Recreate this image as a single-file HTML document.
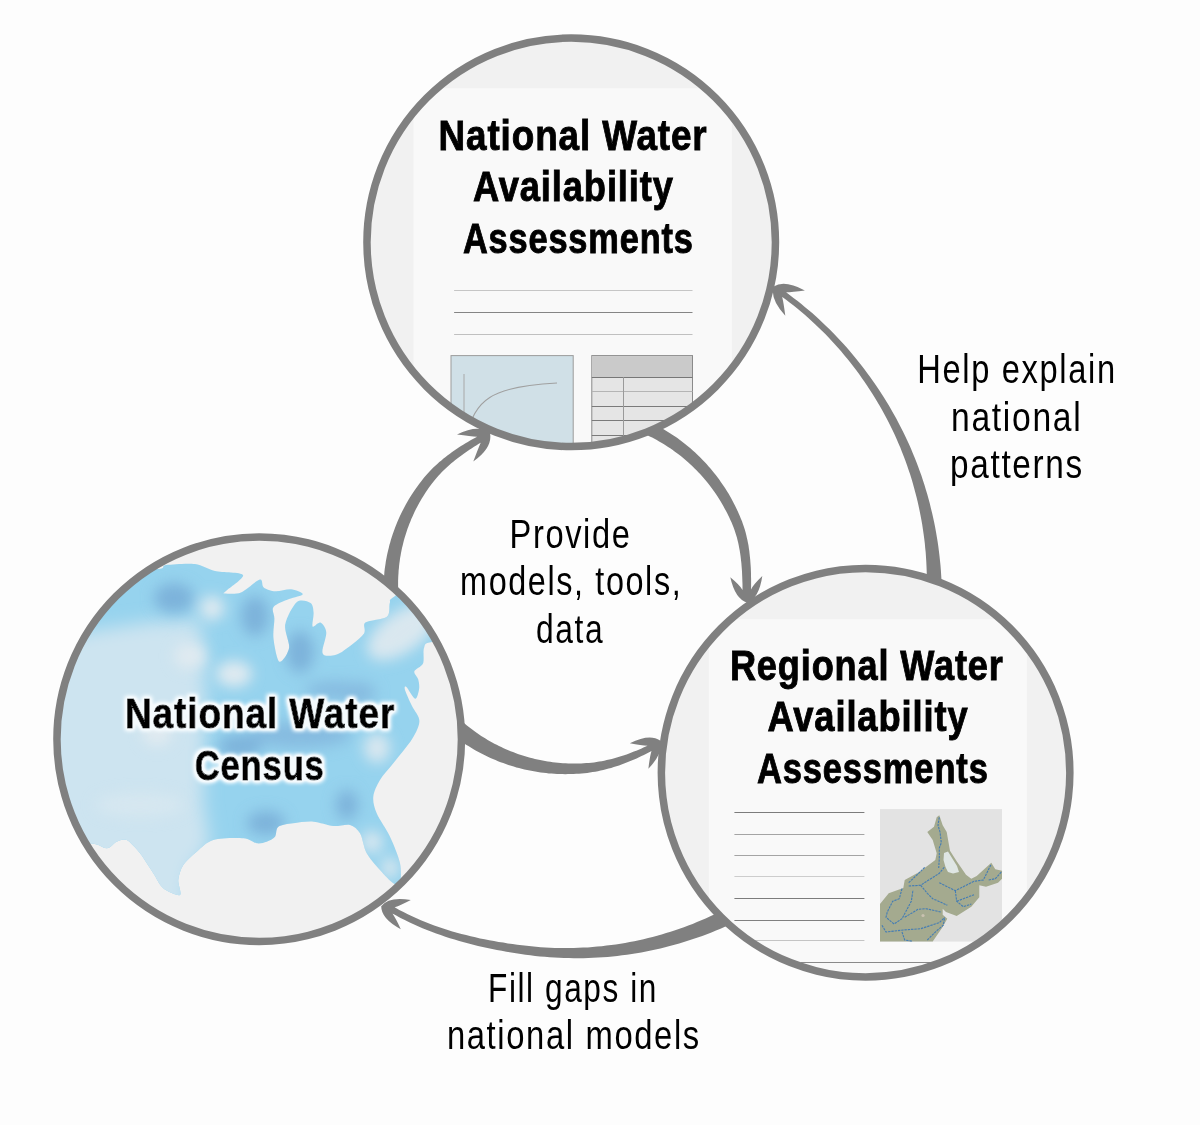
<!DOCTYPE html>
<html><head><meta charset="utf-8"><style>
html,body{margin:0;padding:0;background:#fdfdfd;width:1200px;height:1125px;overflow:hidden;}
svg{display:block;}
text{font-family:"Liberation Sans",sans-serif;}
</style></head><body>
<svg width="1200" height="1125" viewBox="0 0 1200 1125">
<defs>
<clipPath id="cT"><circle cx="571.2" cy="242.3" r="204.25"/></clipPath>
<clipPath id="cL"><circle cx="259.2" cy="739.2" r="202.25"/></clipPath>
<clipPath id="cR"><circle cx="865.6" cy="772.7" r="204.25"/></clipPath>
<filter id="glow" x="-10%" y="-30%" width="120%" height="160%"><feMorphology in="SourceAlpha" operator="dilate" radius="2.2" result="d"/><feGaussianBlur in="d" stdDeviation="2.3" result="b"/><feComponentTransfer in="b" result="b2"><feFuncA type="linear" slope="1.7"/></feComponentTransfer><feFlood flood-color="#f4fafd"/><feComposite in2="b2" operator="in" result="g"/><feMerge><feMergeNode in="g"/><feMergeNode in="SourceGraphic"/></feMerge></filter>
<filter id="blur8" x="-50%" y="-50%" width="200%" height="200%"><feGaussianBlur stdDeviation="9"/></filter><filter id="blur6" x="-50%" y="-50%" width="200%" height="200%"><feGaussianBlur stdDeviation="7"/></filter>
</defs>
<path d="M401.3 616.0 L400.8 613.5 L400.4 611.0 L400.0 608.5 L399.6 606.0 L399.3 603.5 L399.0 601.0 L398.8 598.5 L398.6 596.0 L398.4 593.5 L398.3 591.0 L398.2 588.4 L398.1 585.9 L398.1 583.4 L398.1 580.8 L398.2 578.3 L398.3 575.8 L398.5 573.2 L398.6 570.7 L398.9 568.2 L399.1 565.7 L399.4 563.2 L399.8 560.6 L400.1 558.1 L400.6 555.6 L401.0 553.1 L401.5 550.6 L402.0 548.1 L402.6 545.7 L403.2 543.2 L403.8 540.7 L404.5 538.3 L405.3 535.8 L406.0 533.4 L406.8 531.0 L407.6 528.6 L408.5 526.2 L409.4 523.8 L410.4 521.4 L411.3 519.1 L412.4 516.7 L413.4 514.4 L414.5 512.1 L415.6 509.8 L416.8 507.5 L418.0 505.2 L419.2 503.0 L420.5 500.8 L421.8 498.6 L423.1 496.4 L424.5 494.2 L425.9 492.1 L427.3 489.9 L428.8 487.8 L430.3 485.8 L431.8 483.7 L433.4 481.7 L435.0 479.7 L436.7 477.7 L438.4 475.8 L440.1 473.9 L441.9 472.1 L443.7 470.2 L445.6 468.5 L447.5 466.7 L449.4 465.0 L451.3 463.3 L453.3 461.7 L455.3 460.1 L457.3 458.5 L459.3 456.9 L461.4 455.4 L463.4 453.9 L465.5 452.4 L467.6 451.0 L469.8 449.6 L471.9 448.2 L474.0 446.8 L476.2 445.4 L478.4 444.1 L480.6 442.8 L480.7 442.7 Q478.2 448.3 473.3 461.5 Q492.9 447.6 490.0 433.0 Q478.5 423.6 457.0 434.5 Q470.9 436.3 477.0 436.7 L477.1 436.7 L477.1 436.7 L474.8 438.0 L472.4 439.3 L470.1 440.6 L467.8 441.9 L465.5 443.3 L463.2 444.7 L461.0 446.1 L458.7 447.6 L456.5 449.0 L454.3 450.6 L452.1 452.1 L449.9 453.7 L447.7 455.3 L445.6 456.9 L443.5 458.6 L441.4 460.4 L439.3 462.1 L437.3 463.9 L435.3 465.8 L433.3 467.6 L431.4 469.5 L429.5 471.5 L427.7 473.5 L425.9 475.5 L424.1 477.6 L422.4 479.7 L420.7 481.9 L419.1 484.0 L417.5 486.2 L415.9 488.4 L414.3 490.7 L412.8 492.9 L411.3 495.2 L409.9 497.5 L408.5 499.8 L407.1 502.2 L405.8 504.6 L404.5 507.0 L403.2 509.4 L402.0 511.8 L400.8 514.3 L399.6 516.8 L398.5 519.2 L397.4 521.8 L396.4 524.3 L395.4 526.8 L394.4 529.4 L393.5 532.0 L392.6 534.6 L391.7 537.2 L390.9 539.8 L390.2 542.4 L389.4 545.1 L388.8 547.7 L388.1 550.4 L387.5 553.1 L386.9 555.7 L386.4 558.4 L385.9 561.1 L385.5 563.9 L385.1 566.6 L384.7 569.3 L384.4 572.0 L384.2 574.8 L383.9 577.5 L383.7 580.3 L383.6 583.0 L383.5 585.8 L383.4 588.5 L383.4 591.3 L383.4 594.0 L383.5 596.8 L383.6 599.5 L383.7 602.3 L383.9 605.1 L384.2 607.8 L384.5 610.6 L384.8 613.3 L385.1 616.0 L385.5 618.8 Z" fill="#808080"/>
<path d="M630.5 428.3 L633.0 429.2 L635.4 430.1 L637.9 431.1 L640.3 432.1 L642.7 433.1 L645.1 434.2 L647.5 435.3 L649.8 436.4 L652.2 437.6 L654.5 438.8 L656.8 440.1 L659.1 441.4 L661.4 442.7 L663.6 444.1 L665.9 445.4 L668.1 446.9 L670.2 448.3 L672.4 449.8 L674.6 451.4 L676.7 452.9 L678.8 454.5 L680.8 456.1 L682.9 457.8 L684.9 459.5 L686.9 461.2 L688.9 463.0 L690.8 464.7 L692.7 466.6 L694.6 468.4 L696.5 470.3 L698.3 472.2 L700.1 474.1 L701.9 476.0 L703.6 478.0 L705.3 480.0 L707.0 482.1 L708.6 484.1 L710.3 486.2 L711.8 488.3 L713.4 490.5 L714.9 492.6 L716.4 494.8 L717.9 497.0 L719.3 499.2 L720.7 501.5 L722.0 503.8 L723.3 506.0 L724.6 508.4 L725.9 510.7 L727.1 513.0 L728.3 515.4 L729.4 517.8 L730.5 520.2 L731.6 522.6 L732.6 525.1 L733.6 527.5 L734.5 530.0 L735.3 532.5 L736.1 535.0 L736.9 537.6 L737.5 540.1 L738.2 542.7 L738.7 545.3 L739.2 547.9 L739.7 550.5 L740.1 553.1 L740.5 555.7 L740.8 558.3 L741.1 560.9 L741.4 563.6 L741.6 566.2 L741.8 568.8 L742.0 571.4 L742.1 574.0 L742.2 576.6 L742.3 579.2 L742.4 581.9 L742.5 584.5 L742.5 587.1 L742.5 589.7 L742.5 589.9 Q739.6 585.0 730.3 577.3 Q735.1 599.1 747.3 602.7 Q759.1 598.2 762.3 576.1 Q753.6 584.4 751.0 589.5 L751.0 589.7 L751.0 589.7 L751.1 587.0 L751.1 584.2 L751.1 581.5 L751.1 578.7 L751.0 576.0 L751.0 573.2 L750.9 570.5 L750.8 567.7 L750.6 564.9 L750.4 562.2 L750.2 559.4 L749.9 556.7 L749.6 553.9 L749.3 551.1 L748.9 548.4 L748.5 545.6 L748.0 542.9 L747.4 540.1 L746.8 537.4 L746.2 534.7 L745.5 532.0 L744.7 529.3 L743.8 526.6 L742.9 524.0 L742.0 521.3 L740.9 518.7 L739.8 516.1 L738.7 513.6 L737.6 511.0 L736.4 508.5 L735.2 505.9 L733.9 503.4 L732.6 501.0 L731.3 498.5 L729.9 496.0 L728.5 493.6 L727.0 491.2 L725.5 488.8 L724.0 486.5 L722.4 484.2 L720.8 481.9 L719.2 479.6 L717.5 477.3 L715.8 475.1 L714.1 472.9 L712.3 470.7 L710.5 468.5 L708.6 466.4 L706.8 464.3 L704.9 462.2 L702.9 460.2 L701.0 458.2 L699.0 456.2 L696.9 454.2 L694.9 452.3 L692.8 450.4 L690.7 448.6 L688.5 446.8 L686.3 445.0 L684.1 443.2 L681.9 441.5 L679.6 439.8 L677.4 438.1 L675.1 436.5 L672.7 434.9 L670.4 433.4 L668.0 431.9 L665.6 430.4 L663.2 428.9 L660.7 427.5 L658.2 426.2 L655.7 424.8 L653.2 423.5 L650.7 422.3 L648.1 421.1 L645.6 419.9 L643.0 418.8 L640.4 417.7 L637.8 416.6 L635.1 415.6 Z" fill="#808080"/>
<path d="M446.0 729.7 L448.1 731.5 L450.3 733.2 L452.4 735.0 L454.7 736.7 L456.9 738.3 L459.1 740.0 L461.4 741.6 L463.7 743.1 L466.0 744.7 L468.4 746.1 L470.8 747.6 L473.1 749.0 L475.6 750.4 L478.0 751.8 L480.4 753.1 L482.9 754.3 L485.4 755.6 L487.9 756.8 L490.4 757.9 L492.9 759.0 L495.5 760.1 L498.0 761.2 L500.6 762.2 L503.2 763.1 L505.8 764.1 L508.4 764.9 L511.1 765.8 L513.7 766.6 L516.4 767.4 L519.0 768.1 L521.7 768.8 L524.4 769.4 L527.1 770.0 L529.8 770.6 L532.5 771.1 L535.2 771.6 L537.9 772.0 L540.6 772.4 L543.4 772.8 L546.1 773.1 L548.8 773.4 L551.6 773.6 L554.3 773.8 L557.1 773.9 L559.8 774.1 L562.6 774.1 L565.3 774.2 L568.0 774.1 L570.8 774.1 L573.5 774.0 L576.3 773.8 L579.0 773.7 L581.7 773.5 L584.5 773.2 L587.2 772.9 L589.9 772.5 L592.6 772.1 L595.3 771.7 L598.0 771.2 L600.6 770.6 L603.3 770.0 L606.0 769.3 L608.6 768.6 L611.2 767.9 L613.8 767.1 L616.4 766.3 L619.0 765.4 L621.5 764.5 L624.1 763.6 L626.6 762.6 L629.1 761.6 L631.6 760.6 L634.1 759.5 L636.6 758.4 L639.0 757.3 L641.5 756.1 L643.9 754.9 L646.3 753.7 L648.7 752.5 L651.1 751.2 L651.5 750.9 Q649.7 756.9 648.4 768.7 Q663.9 752.7 660.1 740.6 Q649.8 733.3 629.8 743.3 Q641.4 745.6 647.7 745.7 L648.1 745.4 L648.1 745.4 L645.8 746.5 L643.4 747.6 L641.1 748.7 L638.7 749.7 L636.3 750.7 L633.9 751.6 L631.5 752.6 L629.1 753.5 L626.6 754.4 L624.2 755.2 L621.7 756.0 L619.2 756.8 L616.8 757.5 L614.3 758.2 L611.8 758.9 L609.3 759.5 L606.7 760.1 L604.2 760.7 L601.7 761.2 L599.1 761.6 L596.5 762.0 L594.0 762.4 L591.4 762.7 L588.8 762.9 L586.3 763.1 L583.7 763.3 L581.1 763.4 L578.5 763.5 L575.9 763.5 L573.3 763.6 L570.7 763.5 L568.2 763.4 L565.6 763.3 L563.0 763.2 L560.4 763.0 L557.9 762.8 L555.3 762.5 L552.7 762.2 L550.2 761.8 L547.7 761.4 L545.1 761.0 L542.6 760.6 L540.1 760.1 L537.5 759.5 L535.0 759.0 L532.5 758.3 L530.1 757.7 L527.6 757.0 L525.1 756.3 L522.7 755.5 L520.2 754.7 L517.8 753.9 L515.4 753.0 L513.0 752.1 L510.6 751.2 L508.3 750.2 L505.9 749.2 L503.6 748.2 L501.3 747.1 L499.0 746.0 L496.7 744.8 L494.4 743.7 L492.2 742.5 L489.9 741.2 L487.7 739.9 L485.5 738.6 L483.4 737.3 L481.2 735.9 L479.1 734.5 L477.0 733.0 L474.9 731.6 L472.9 730.1 L470.9 728.5 L468.9 727.0 L466.9 725.4 L464.9 723.8 L463.0 722.1 L461.1 720.5 L459.2 718.8 L457.4 717.0 Z" fill="#808080"/>
<path d="M940.8 629.0 L941.1 624.1 L941.4 619.2 L941.6 614.4 L941.8 609.5 L941.9 604.6 L942.0 599.7 L941.9 594.8 L941.8 590.0 L941.7 585.1 L941.5 580.2 L941.2 575.4 L940.9 570.5 L940.5 565.6 L940.0 560.8 L939.5 556.0 L938.9 551.1 L938.3 546.3 L937.6 541.5 L936.8 536.7 L936.0 531.9 L935.1 527.1 L934.2 522.4 L933.1 517.6 L932.1 512.9 L930.9 508.2 L929.8 503.5 L928.5 498.8 L927.2 494.1 L925.8 489.5 L924.4 484.8 L922.9 480.2 L921.4 475.6 L919.7 471.1 L918.1 466.5 L916.4 462.0 L914.6 457.5 L912.7 453.0 L910.9 448.5 L908.9 444.1 L906.9 439.7 L904.8 435.3 L902.7 431.0 L900.5 426.7 L898.3 422.4 L896.0 418.1 L893.7 413.9 L891.3 409.7 L888.9 405.5 L886.4 401.4 L883.8 397.3 L881.2 393.2 L878.6 389.2 L875.9 385.2 L873.1 381.2 L870.3 377.3 L867.5 373.4 L864.6 369.5 L861.7 365.7 L858.7 361.9 L855.7 358.2 L852.6 354.5 L849.5 350.8 L846.3 347.1 L843.1 343.5 L839.8 340.0 L836.5 336.5 L833.2 333.0 L829.8 329.6 L826.3 326.2 L822.9 322.9 L819.3 319.6 L815.8 316.3 L812.2 313.1 L808.5 310.0 L804.8 306.9 L801.1 303.8 L797.3 300.8 L793.5 297.9 L789.7 295.0 L785.8 292.1 L785.8 292.2 Q792.3 292.1 804.9 290.4 Q784.2 279.5 773.7 286.6 Q769.6 298.5 785.3 315.8 Q783.7 303.1 782.2 296.9 L782.3 297.0 L782.3 297.0 L786.1 299.8 L789.9 302.7 L793.6 305.6 L797.3 308.5 L800.9 311.6 L804.5 314.6 L808.1 317.8 L811.6 320.9 L815.1 324.2 L818.5 327.4 L821.9 330.7 L825.3 334.1 L828.6 337.5 L831.8 341.0 L835.0 344.4 L838.2 348.0 L841.3 351.5 L844.3 355.2 L847.3 358.8 L850.3 362.5 L853.2 366.2 L856.1 370.0 L858.9 373.8 L861.6 377.7 L864.3 381.5 L867.0 385.5 L869.6 389.4 L872.2 393.4 L874.7 397.4 L877.1 401.4 L879.5 405.5 L881.8 409.6 L884.1 413.7 L886.4 417.9 L888.5 422.1 L890.6 426.3 L892.7 430.5 L894.7 434.8 L896.6 439.1 L898.5 443.4 L900.4 447.8 L902.1 452.2 L903.8 456.6 L905.5 461.0 L907.1 465.4 L908.6 469.9 L910.1 474.3 L911.5 478.8 L912.8 483.3 L914.1 487.9 L915.3 492.4 L916.5 497.0 L917.6 501.5 L918.6 506.1 L919.6 510.7 L920.5 515.3 L921.4 520.0 L922.2 524.6 L922.9 529.2 L923.6 533.9 L924.2 538.5 L924.8 543.2 L925.2 547.9 L925.7 552.5 L926.0 557.2 L926.3 561.9 L926.5 566.6 L926.7 571.2 L926.8 575.9 L926.9 580.6 L926.8 585.3 L926.8 590.0 L926.6 594.6 L926.4 599.3 L926.1 604.0 L925.8 608.6 L925.4 613.3 L924.9 617.9 L924.4 622.6 L923.8 627.2 Z" fill="#808080"/>
<path d="M754.7 891.7 L750.8 894.2 L746.8 896.7 L742.9 899.1 L738.8 901.5 L734.8 903.8 L730.7 906.1 L726.6 908.3 L722.5 910.4 L718.3 912.5 L714.1 914.5 L709.8 916.5 L705.6 918.4 L701.3 920.3 L697.0 922.1 L692.6 923.9 L688.3 925.6 L683.9 927.2 L679.5 928.8 L675.1 930.3 L670.6 931.7 L666.1 933.1 L661.6 934.5 L657.1 935.7 L652.6 937.0 L648.1 938.1 L643.5 939.2 L638.9 940.2 L634.3 941.2 L629.7 942.1 L625.1 942.9 L620.5 943.7 L615.8 944.4 L611.2 945.1 L606.5 945.6 L601.8 946.2 L597.2 946.6 L592.5 947.0 L587.8 947.4 L583.1 947.6 L578.4 947.8 L573.7 948.0 L569.0 948.0 L564.3 948.1 L559.6 948.0 L554.9 947.9 L550.1 947.7 L545.4 947.5 L540.7 947.2 L536.0 946.8 L531.3 946.3 L526.7 945.8 L522.0 945.3 L517.3 944.7 L512.6 944.0 L507.9 943.4 L503.3 942.6 L498.6 941.9 L494.0 941.1 L489.3 940.2 L484.6 939.3 L480.0 938.4 L475.4 937.3 L470.7 936.3 L466.1 935.1 L461.5 934.0 L456.9 932.7 L452.3 931.4 L447.8 930.0 L443.2 928.5 L438.7 927.0 L434.2 925.4 L429.7 923.8 L425.3 922.0 L420.9 920.2 L416.5 918.3 L412.1 916.3 L407.8 914.2 L403.5 912.1 L399.3 909.9 L395.1 907.6 L394.6 907.3 Q400.5 905.4 410.8 900.0 Q388.9 896.1 381.2 906.2 Q381.1 918.8 400.8 929.2 Q396.0 918.6 392.4 913.5 L391.9 913.2 L391.9 913.2 L396.2 915.6 L400.5 917.9 L404.8 920.1 L409.2 922.2 L413.6 924.3 L418.0 926.3 L422.5 928.2 L427.0 930.0 L431.6 931.8 L436.1 933.5 L440.7 935.1 L445.3 936.7 L449.9 938.2 L454.6 939.6 L459.2 941.0 L463.9 942.3 L468.6 943.5 L473.3 944.7 L478.0 945.9 L482.7 947.0 L487.4 948.0 L492.2 949.0 L496.9 949.9 L501.7 950.8 L506.4 951.7 L511.2 952.5 L516.0 953.2 L520.8 954.0 L525.5 954.7 L530.3 955.3 L535.1 955.9 L539.9 956.4 L544.8 956.8 L549.6 957.2 L554.4 957.6 L559.2 957.8 L564.1 958.0 L568.9 958.1 L573.8 958.2 L578.6 958.2 L583.5 958.2 L588.3 958.0 L593.1 957.8 L598.0 957.6 L602.8 957.3 L607.7 956.9 L612.5 956.4 L617.3 955.9 L622.1 955.3 L627.0 954.7 L631.8 954.0 L636.6 953.2 L641.3 952.4 L646.1 951.5 L650.9 950.6 L655.6 949.5 L660.4 948.5 L665.1 947.3 L669.8 946.1 L674.5 944.8 L679.2 943.5 L683.9 942.1 L688.5 940.6 L693.1 939.1 L697.7 937.5 L702.3 935.9 L706.9 934.2 L711.4 932.4 L716.0 930.6 L720.5 928.7 L724.9 926.7 L729.4 924.7 L733.8 922.6 L738.2 920.5 L742.6 918.3 L746.9 916.1 L751.2 913.8 L755.5 911.4 L759.8 909.0 L764.0 906.5 Z" fill="#808080"/>
<g clip-path="url(#cT)"><rect x="0" y="0" width="1200" height="1125" fill="#f1f1f1"/>
<rect x="413.5" y="88.3" width="318.3" height="420" fill="#f9f9f9"/>
<line x1="454.1" y1="290.5" x2="692.5" y2="290.5" stroke="#c6c6c6" stroke-width="1.2"/>
<line x1="454.1" y1="312.5" x2="692.5" y2="312.5" stroke="#858585" stroke-width="1.1"/>
<line x1="454.1" y1="334.5" x2="692.5" y2="334.5" stroke="#c0c0c0" stroke-width="1.2"/>
<rect x="451" y="355.6" width="122.2" height="130" fill="#d0e0e7" stroke="#9c9c9c" stroke-width="1"/>
<line x1="464" y1="374" x2="464" y2="470" stroke="#a8a8a8" stroke-width="1"/>
<path d="M466 445 C470 398 495 386 557 383" fill="none" stroke="#a0a0a0" stroke-width="1.1"/>
<rect x="591.8" y="355.6" width="100.7" height="130" fill="#e5e5e5" stroke="#8a8a8a" stroke-width="1"/>
<rect x="592.3" y="356.1" width="99.7" height="21" fill="#cacaca"/>
<line x1="591.8" y1="377.5" x2="692.5" y2="377.5" stroke="#777777" stroke-width="1.2"/>
<line x1="591.8" y1="391.5" x2="692.5" y2="391.5" stroke="#b4b4b4" stroke-width="1"/>
<line x1="591.8" y1="406.5" x2="692.5" y2="406.5" stroke="#7a7a7a" stroke-width="1"/>
<line x1="591.8" y1="420.5" x2="692.5" y2="420.5" stroke="#7a7a7a" stroke-width="1"/>
<line x1="591.8" y1="435.5" x2="692.5" y2="435.5" stroke="#7a7a7a" stroke-width="1"/>
<line x1="591.8" y1="449.5" x2="692.5" y2="449.5" stroke="#7a7a7a" stroke-width="1"/>
<line x1="623.5" y1="377.2" x2="623.5" y2="480" stroke="#9a9a9a" stroke-width="1"/></g>
<g clip-path="url(#cR)"><rect x="0" y="0" width="1200" height="1125" fill="#f1f1f1"/>
<rect x="708.8" y="619.3" width="318.1" height="420" fill="#f9f9f9"/>
<line x1="734.4" y1="812.5" x2="864.4" y2="812.5" stroke="#7c7c7c" stroke-width="1.1"/>
<line x1="734.4" y1="834.5" x2="864.4" y2="834.5" stroke="#a4a4a4" stroke-width="1.1"/>
<line x1="734.4" y1="855.5" x2="864.4" y2="855.5" stroke="#a4a4a4" stroke-width="1.1"/>
<line x1="734.4" y1="876.5" x2="864.4" y2="876.5" stroke="#cdcdcd" stroke-width="1.1"/>
<line x1="734.4" y1="898.5" x2="864.4" y2="898.5" stroke="#7c7c7c" stroke-width="1.1"/>
<line x1="734.4" y1="920.5" x2="864.4" y2="920.5" stroke="#808080" stroke-width="1.1"/>
<line x1="734.4" y1="940.5" x2="864.4" y2="940.5" stroke="#c4c4c4" stroke-width="1.1"/>
<line x1="800.6" y1="962.5" x2="1010" y2="962.5" stroke="#8a8a8a" stroke-width="1.1"/>
<rect x="880" y="809.1" width="122" height="132.5" fill="#e3e3e3"/>
<path d="M939.3 815.3 L942.7 825.3 L946.7 832 L950 850.7 L956.7 861.3 L966 874.7 L971.3 878.7 L976.7 876 L991.3 862.7 L995.3 869.3 L1002 870.7 L1002 878.7 L998 882.7 L986 886.7 L979.3 885.3 L979.3 897.3 L971.3 906.7 L956.7 916 L946 912 L942.7 908.7 L942.7 914.7 L947.3 918.7 L942 928 L932.7 941.6 L880 941.6 L880 904 L888.7 893.3 L903.3 888 L904.7 880 L919.3 872 L935.3 860 L936.7 853.3 L932.7 840 L927.3 832 L934 826.7 L936.7 817.3 Z" fill="#a4aa8f"/><path d="M944 853 L948 851.5 L952 858 L957 866 L959 872 L953 873.5 L948 872 L945.5 867 L943.5 860 Z" fill="#dfe6e4"/><circle cx="923" cy="915.5" r="1.6" fill="#c9c2b0"/><polyline points="939.3,817.3 938,825.3 940,832 941.3,842.7 939.3,848 939.3,858.7 938.7,868" fill="none" stroke="#3a78b8" stroke-width="1.1" stroke-dasharray="2.4 0.9" opacity="0.9"/><polyline points="908.7,882.7 919.3,872.7 925,867" fill="none" stroke="#3a78b8" stroke-width="1.1" stroke-dasharray="2.4 0.9" opacity="0.9"/><polyline points="908.7,886 920.7,885.3 928.7,880 939.3,873.3 944.7,866.7" fill="none" stroke="#3a78b8" stroke-width="1.1" stroke-dasharray="2.4 0.9" opacity="0.9"/><polyline points="920.7,885.3 927.3,893.3 932.7,898.7 942,902.7 947.3,905.3" fill="none" stroke="#3a78b8" stroke-width="1.1" stroke-dasharray="2.4 0.9" opacity="0.9"/><polyline points="939.3,882.7 947.3,886.7 955.3,890.7 963.3,886.7 974,881.3 983.3,880 991.3,864" fill="none" stroke="#3a78b8" stroke-width="1.1" stroke-dasharray="2.4 0.9" opacity="0.9"/><polyline points="988.7,880 995.3,878.7 1002,871.3" fill="none" stroke="#3a78b8" stroke-width="1.1" stroke-dasharray="2.4 0.9" opacity="0.9"/><polyline points="955.3,890.7 956.7,901.3 963.3,906.7 971.3,904" fill="none" stroke="#3a78b8" stroke-width="1.1" stroke-dasharray="2.4 0.9" opacity="0.9"/><polyline points="956.7,901.3 974,894.7" fill="none" stroke="#3a78b8" stroke-width="1.1" stroke-dasharray="2.4 0.9" opacity="0.9"/><polyline points="902,888.7 899.3,898.7 892.7,901.3 887.3,912 886,917.3 894,924 902,918.7 911.3,901.3 913,890" fill="none" stroke="#3a78b8" stroke-width="1.1" stroke-dasharray="2.4 0.9" opacity="0.9"/><polyline points="882,925.3 886,932 903.3,930 920.7,928.7 939.3,922.7 944.7,917.3" fill="none" stroke="#3a78b8" stroke-width="1.1" stroke-dasharray="2.4 0.9" opacity="0.9"/><polyline points="904.7,917.3 918,909.3 926,908.7 940.7,912" fill="none" stroke="#3a78b8" stroke-width="1.1" stroke-dasharray="2.4 0.9" opacity="0.9"/><polyline points="902,932 904.7,940 912.7,941.3" fill="none" stroke="#3a78b8" stroke-width="1.1" stroke-dasharray="2.4 0.9" opacity="0.9"/><polyline points="927.3,940 936.7,930.7 943.3,925.3 944.7,917.3" fill="none" stroke="#3a78b8" stroke-width="1.1" stroke-dasharray="2.4 0.9" opacity="0.9"/></g>
<g clip-path="url(#cL)"><rect x="0" y="0" width="1200" height="1125" fill="#f1f1f1"/>
<clipPath id="land"><path d="M150.0 569.0 C170.4 569.8 159.2 565.8 166.0 565.0 C172.8 564.2 187.7 563.1 195.0 564.0 C202.3 564.9 207.8 569.4 215.0 571.0 C222.2 572.6 241.3 572.0 243.0 575.0 C244.7 578.0 228.8 588.2 226.0 591.0 C223.2 593.8 222.2 593.2 224.5 593.4 C226.8 593.6 235.7 594.6 241.0 592.5 C246.3 590.4 256.4 580.4 259.8 579.6 C263.2 578.8 261.4 585.6 263.7 587.4 C266.0 589.2 271.3 591.0 275.4 591.3 C279.5 591.6 286.9 588.9 291.0 589.3 C295.1 589.7 303.1 592.7 302.8 594.2 C302.5 595.7 293.5 597.2 289.1 599.1 C284.7 601.0 275.7 604.0 273.5 606.9 C271.3 609.8 274.4 614.0 274.4 618.7 C274.4 623.4 272.8 631.8 273.5 638.2 C274.2 644.7 277.0 660.2 279.3 661.7 C281.6 663.2 288.2 653.6 289.1 648.0 C290.0 642.4 284.0 631.4 285.2 624.5 C286.4 617.6 293.1 605.2 296.9 602.0 C300.7 598.8 308.1 601.4 310.6 603.0 C313.1 604.6 313.3 609.3 313.6 612.8 C313.9 616.3 311.6 625.0 312.6 626.5 C313.6 628.0 318.3 621.7 320.4 622.6 C322.5 623.5 326.0 628.0 326.3 632.4 C326.6 636.8 322.1 648.4 322.4 651.9 C322.7 655.4 325.3 655.8 328.2 655.8 C331.1 655.8 336.6 655.1 341.9 651.9 C347.2 648.7 359.9 638.7 363.4 634.3 C366.9 629.9 361.9 625.2 365.4 622.6 C368.9 620.0 383.2 619.6 386.9 616.7 C390.6 613.8 388.6 606.1 389.8 603.0 C391.0 599.9 387.2 601.2 394.7 596.2 C402.2 591.2 427.2 569.4 440.0 570.0 C452.8 570.6 474.0 589.5 480.0 600.0 C486.0 610.5 487.2 633.7 480.0 640.0 C472.8 646.3 440.3 640.9 431.9 642.1 C423.5 643.3 425.3 644.8 424.0 648.0 C422.7 651.2 424.5 660.1 423.0 663.6 C421.5 667.1 415.0 669.1 414.3 671.5 C413.6 673.9 417.5 676.7 418.2 679.3 C418.9 681.9 419.6 686.1 419.1 689.0 C418.7 691.9 417.1 699.1 415.2 698.8 C413.3 698.5 407.9 688.4 406.4 687.1 C404.9 685.8 404.2 687.2 405.0 690.0 C405.8 692.8 409.8 701.4 412.0 706.0 C414.2 710.6 419.4 715.9 419.4 720.9 C419.4 725.9 416.0 732.7 412.1 739.1 C408.2 745.5 398.1 757.2 393.3 763.3 C388.5 769.4 383.0 775.0 380.0 780.0 C377.0 785.0 373.8 791.7 373.3 796.7 C372.8 801.7 374.2 807.3 376.7 813.3 C379.2 819.3 386.5 829.2 390.0 836.7 C393.5 844.2 398.5 856.3 400.0 863.3 C401.5 870.3 401.0 880.3 400.0 883.3 C399.0 886.3 396.3 885.3 393.3 883.3 C390.3 881.3 384.0 874.5 380.0 870.0 C376.0 865.5 369.7 858.8 366.7 853.3 C363.7 847.8 362.5 837.5 360.0 833.3 C357.5 829.1 354.0 826.1 350.0 825.0 C346.0 823.9 338.8 826.5 333.3 826.0 C327.8 825.5 319.3 822.1 313.3 821.7 C307.3 821.3 298.6 822.5 293.3 823.3 C288.1 824.0 281.0 824.7 278.3 826.7 C275.6 828.7 276.7 834.5 275.0 836.7 C273.3 839.0 269.4 840.7 266.7 841.7 C264.0 842.7 260.2 843.8 256.7 843.3 C253.2 842.8 249.8 838.8 243.3 838.3 C236.8 837.8 220.3 838.0 213.3 840.0 C206.3 842.0 201.2 848.0 196.7 851.7 C192.2 855.5 186.1 860.8 183.3 865.0 C180.5 869.2 178.8 875.5 178.3 880.0 C177.8 884.5 182.2 893.8 180.0 895.0 C177.8 896.2 167.3 891.6 163.3 888.3 C159.3 885.0 156.8 878.5 153.3 873.3 C149.8 868.0 144.0 858.3 140.0 853.3 C136.0 848.3 130.2 841.7 126.7 840.0 C123.2 838.3 119.7 840.5 116.7 841.7 C113.7 842.9 110.7 848.1 106.7 848.3 C102.7 848.5 101.5 844.5 90.0 843.3 C78.5 842.1 39.0 882.5 30.0 840.0 C21.0 797.5 12.0 600.6 30.0 560.0 C48.0 519.4 129.6 568.2 150.0 569.0 Z"/></clipPath>
<g clip-path="url(#land)">
<rect x="40" y="540" width="440" height="420" fill="#96d3ee"/>
<g filter="url(#blur8)">
<path d="M30 645 L95 630 L150 622 L200 620 L206 700 L203 800 L210 845 L190 870 L180 960 L30 960 Z" fill="#cde4f0"/>
</g>
<g filter="url(#blur6)">
<ellipse cx="174" cy="598" rx="20" ry="15" fill="#7db2da" transform="rotate(0 174 598)"/>
<ellipse cx="255" cy="616" rx="14" ry="20" fill="#7db2da" transform="rotate(0 255 616)"/>
<ellipse cx="300" cy="652" rx="14" ry="21" fill="#7db2da" transform="rotate(0 300 652)"/>
<ellipse cx="266" cy="823" rx="19" ry="12" fill="#7db2da" transform="rotate(0 266 823)"/>
<ellipse cx="347" cy="805" rx="11" ry="15" fill="#7db2da" transform="rotate(0 347 805)"/>
<ellipse cx="358" cy="693" rx="18" ry="11" fill="#86bbe0" transform="rotate(0 358 693)"/>
<ellipse cx="300" cy="735" rx="52" ry="13" fill="#86bbe0" transform="rotate(0 300 735)"/>
<ellipse cx="335" cy="690" rx="30" ry="9" fill="#86bbe0" transform="rotate(0 335 690)"/>
<ellipse cx="240" cy="746" rx="22" ry="11" fill="#7db2da" transform="rotate(0 240 746)"/>
<ellipse cx="212" cy="608" rx="12" ry="12" fill="#e0eaf0" transform="rotate(0 212 608)"/>
<ellipse cx="190" cy="656" rx="16" ry="13" fill="#e0eaf0" transform="rotate(0 190 656)"/>
<ellipse cx="234" cy="674" rx="18" ry="13" fill="#e0eaf0" transform="rotate(0 234 674)"/>
<ellipse cx="157" cy="732" rx="15" ry="14" fill="#e0eaf0" transform="rotate(0 157 732)"/>
<ellipse cx="402" cy="632" rx="40" ry="20" fill="#d9e7ef" transform="rotate(-35 402 632)"/>
<ellipse cx="377" cy="748" rx="13" ry="15" fill="#d9e7ef" transform="rotate(0 377 748)"/>
<ellipse cx="372" cy="842" rx="11" ry="11" fill="#d9e7ef" transform="rotate(0 372 842)"/>
<ellipse cx="390" cy="868" rx="9" ry="11" fill="#d9e7ef" transform="rotate(0 390 868)"/>
<ellipse cx="140" cy="805" rx="45" ry="12" fill="#d6e7f0" transform="rotate(0 140 805)"/>
</g>
</g></g>
<circle cx="571.2" cy="242.3" r="204.25" fill="none" stroke="#808080" stroke-width="7.5"/>
<circle cx="259.2" cy="739.2" r="202.25" fill="none" stroke="#808080" stroke-width="7.5"/>
<circle cx="865.6" cy="772.7" r="204.25" fill="none" stroke="#808080" stroke-width="7.5"/>
<g fill="#000">
<text x="438.6" y="149.7" font-size="41.8" font-weight="bold" letter-spacing="1.0" textLength="269.0" lengthAdjust="spacingAndGlyphs" stroke="#000" stroke-width="0.9">National Water</text>
<text x="473.0" y="201.4" font-size="41.8" font-weight="bold" letter-spacing="1.0" textLength="200.8" lengthAdjust="spacingAndGlyphs" stroke="#000" stroke-width="0.9">Availability</text>
<text x="462.9" y="253.4" font-size="41.8" font-weight="bold" letter-spacing="1.0" textLength="230.8" lengthAdjust="spacingAndGlyphs" stroke="#000" stroke-width="0.9">Assessments</text>
<text x="729.9" y="679.6" font-size="41.8" font-weight="bold" letter-spacing="1.0" textLength="273.8" lengthAdjust="spacingAndGlyphs" stroke="#000" stroke-width="0.9">Regional Water</text>
<text x="767.5" y="730.5" font-size="41.8" font-weight="bold" letter-spacing="1.0" textLength="201.0" lengthAdjust="spacingAndGlyphs" stroke="#000" stroke-width="0.9">Availability</text>
<text x="756.9" y="782.5" font-size="41.8" font-weight="bold" letter-spacing="1.0" textLength="231.8" lengthAdjust="spacingAndGlyphs" stroke="#000" stroke-width="0.9">Assessments</text>
<text x="917.3" y="382.6" font-size="40" font-weight="normal" letter-spacing="2.0" textLength="199.4" lengthAdjust="spacingAndGlyphs">Help explain</text>
<text x="951.1" y="430.5" font-size="40" font-weight="normal" letter-spacing="2.0" textLength="131.2" lengthAdjust="spacingAndGlyphs">national</text>
<text x="950.1" y="477.6" font-size="40" font-weight="normal" letter-spacing="2.0" textLength="133.8" lengthAdjust="spacingAndGlyphs">patterns</text>
<text x="509.5" y="547.8" font-size="40" font-weight="normal" letter-spacing="2.0" textLength="122.0" lengthAdjust="spacingAndGlyphs">Provide</text>
<text x="460.1" y="595.3" font-size="40" font-weight="normal" letter-spacing="2.0" textLength="222.2" lengthAdjust="spacingAndGlyphs">models, tools,</text>
<text x="536.0" y="643.2" font-size="40" font-weight="normal" letter-spacing="2.0" textLength="68.2" lengthAdjust="spacingAndGlyphs">data</text>
<text x="488.0" y="1001.7" font-size="40" font-weight="normal" letter-spacing="2.0" textLength="170.0" lengthAdjust="spacingAndGlyphs">Fill gaps in</text>
<text x="446.9" y="1049.3" font-size="40" font-weight="normal" letter-spacing="2.0" textLength="254.0" lengthAdjust="spacingAndGlyphs">national models</text>
</g>
<g fill="#000" filter="url(#glow)"><text x="124.9" y="728.2" font-size="41.8" font-weight="bold" letter-spacing="1.0" textLength="270.4" lengthAdjust="spacingAndGlyphs" stroke="#000" stroke-width="0.9">National Water</text><text x="194.7" y="779.6" font-size="41.8" font-weight="bold" letter-spacing="1.0" textLength="130.0" lengthAdjust="spacingAndGlyphs" stroke="#000" stroke-width="0.9">Census</text></g>
</svg>
</body></html>
